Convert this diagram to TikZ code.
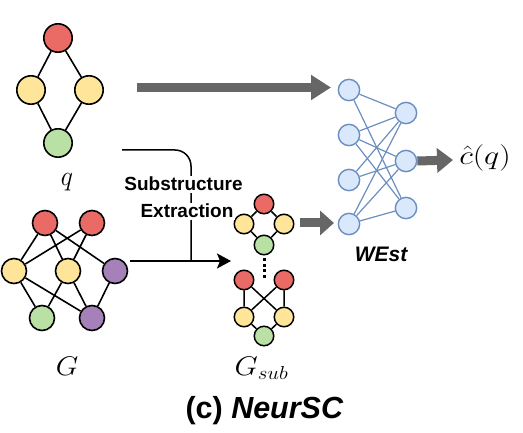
\documentclass[tikz,border=0pt]{standalone}
\usepackage{graphicx}
\usepackage{fontspec}
\setsansfont{Liberation Sans}
\usetikzlibrary{arrows.meta}
\definecolor{nred}{HTML}{EA6B66}
\definecolor{nyel}{HTML}{FFE599}
\definecolor{ngrn}{HTML}{B9E0A5}
\definecolor{npur}{HTML}{A680B8}
\definecolor{nnfill}{HTML}{DAE8FC}
\definecolor{nnline}{HTML}{6C8EBF}
\definecolor{fatgray}{HTML}{666666}
\newcommand{\bigmath}[3]{\scalebox{#1}[#2]{\fontsize{20.74}{24}\selectfont$#3$}}
\begin{document}
\begin{tikzpicture}[x=1pt,y=-1pt,
  gnode/.style={circle,draw=black,line width=1.6pt,minimum size=25pt,inner sep=0pt},
  qnode/.style={gnode,minimum size=28.4pt},
  snode/.style={gnode,minimum size=19.5pt,line width=1.5pt},
  nn/.style={circle,draw=nnline,fill=nnfill,line width=1.4pt,minimum size=21.3pt,inner sep=0pt},
  gedge/.style={line width=1.6pt},
  nnedge/.style={draw=nnline,line width=1.2pt},
  fatarrow/.style={line width=9pt,draw=fatgray,-{Triangle[length=#1,width=24pt]}},
  fatarrow/.default=18pt,
  mathlbl/.style={inner sep=0pt,anchor=base},
  boldlbl/.style={inner sep=1.5pt,anchor=base,fill=white,font=\fontsize{19}{22}\selectfont\sffamily\bfseries},
]
\useasboundingbox (0,0) rectangle (523,433);
% query graph q
\node[qnode,fill=nred] (qr) at (58,38) {};
\node[qnode,fill=nyel] (qy1) at (31,90) {};
\node[qnode,fill=nyel] (qy2) at (89,90) {};
\node[qnode,fill=ngrn] (qg) at (58,143) {};
\draw[gedge] (qr) -- (qy1) (qr) -- (qy2) (qy1) -- (qg) (qy2) -- (qg);
\node[mathlbl] (qlbl) at (67,186) {\bigmath{1.25}{1.35}{q}};
% data graph G
\node[gnode,fill=nred] (r1) at (45,223) {};
\node[gnode,fill=nred] (r2) at (92,223) {};
\node[gnode,fill=nyel] (y1) at (14,271) {};
\node[gnode,fill=nyel] (y2) at (68,271) {};
\node[gnode,fill=npur] (p1) at (115,271) {};
\node[gnode,fill=ngrn] (g1) at (42,318) {};
\node[gnode,fill=npur] (p2) at (92,318) {};
\draw[gedge] (r1) -- (y1) (r1) -- (y2) (r1) -- (p1) (r2) -- (y1) (r2) -- (y2)
  (y1) -- (g1) (y1) -- (p2) (y2) -- (g1) (y2) -- (p2) (p1) -- (p2);
\node[mathlbl] (glbl) at (67,375) {\bigmath{1.4}{1.3}{G}};
% substructures
\node[snode,fill=nred] (sr) at (264,204) {};
\node[snode,fill=nyel] (sy1) at (244,224) {};
\node[snode,fill=nyel] (sy2) at (284,224) {};
\node[snode,fill=ngrn] (sg) at (264,245) {};
\draw[gedge,line width=1.5pt] (sr) -- (sy1) (sr) -- (sy2) (sy1) -- (sg) (sy2) -- (sg);
\node[snode,fill=nred] (br1) at (244,280) {};
\node[snode,fill=nred] (br2) at (284,280) {};
\node[snode,fill=nyel] (by1) at (244,317) {};
\node[snode,fill=nyel] (by2) at (284,317) {};
\node[snode,fill=ngrn] (bg) at (264,336) {};
\draw[gedge,line width=1.5pt] (br1) -- (by1) (br2) -- (by2) (br1) -- (by2) (br2) -- (by1)
  (by1) -- (bg) (by2) -- (bg);
\coordinate (dotA) at (264,258.5);
\coordinate (dotB) at (264,278);
\draw[line width=3pt,dash pattern=on 3pt off 2.5pt] (dotA) -- (dotB);
\node[mathlbl] (gslbl) at (261.5,375) {\bigmath{1.45}{1.3}{G_{sub}}};
% extraction connectors
\coordinate (curveA) at (122,150);
\coordinate (curveB) at (191,150);
\coordinate (joinP) at (191,261);
\coordinate (arrA) at (130,261);
\coordinate (arrB) at (231,261);
\draw[line width=1.5pt,rounded corners=16pt] (curveA) -- (curveB) -- (joinP);
\draw[line width=1.8pt,-{Stealth[length=14pt,width=15pt,inset=3pt]}] (arrA) -- (arrB);
\node[boldlbl] (sublbl) at (183.5,191) {Substructure};
\node[boldlbl] (extlbl) at (187,218) {Extraction};
% WEst network
\node[nn] (i1) at (349,90) {};
\node[nn] (i2) at (349,135) {};
\node[nn] (i3) at (349,180) {};
\node[nn] (i4) at (349,224) {};
\node[nn] (h1) at (406,113) {};
\node[nn] (h2) at (406,161) {};
\node[nn] (h3) at (406,208) {};
\begin{scope}[nnedge]
\draw (i1) -- (h1); \draw (i1) -- (h3);
\draw (i2) -- (h1); \draw (i2) -- (h2); \draw (i2) -- (h3);
\draw (i3) -- (h1); \draw (i3) -- (h2);
\draw (i4) -- (h1); \draw (i4) -- (h2); \draw (i4) -- (h3);
\end{scope}
\node[inner sep=0pt,anchor=base,font=\fontsize{21}{24}\selectfont\sffamily\bfseries\itshape] (westlbl) at (381,262) {WEst};
% fat arrows
\coordinate (topA) at (137,87.5);
\coordinate (topB) at (331,87.5);
\draw[fatarrow=20pt] (topA) -- (topB);
\coordinate (midA) at (300,223);
\coordinate (midB) at (334,223);
\draw[fatarrow=14pt] (midA) -- (midB);
\coordinate (outB) at (453,160);
\draw[fatarrow=16pt] (h2.east) -- (outB);
\node[mathlbl] (clbl) at (485,165) {\bigmath{1.55}{1.28}{\hat{c}(q)}};
% title
\node[inner sep=0pt,anchor=base,font=\fontsize{30.5}{34}\selectfont\sffamily\bfseries] (title) at (264.5,418) {(c) \textit{NeurSC}};
\end{tikzpicture}
\end{document}
